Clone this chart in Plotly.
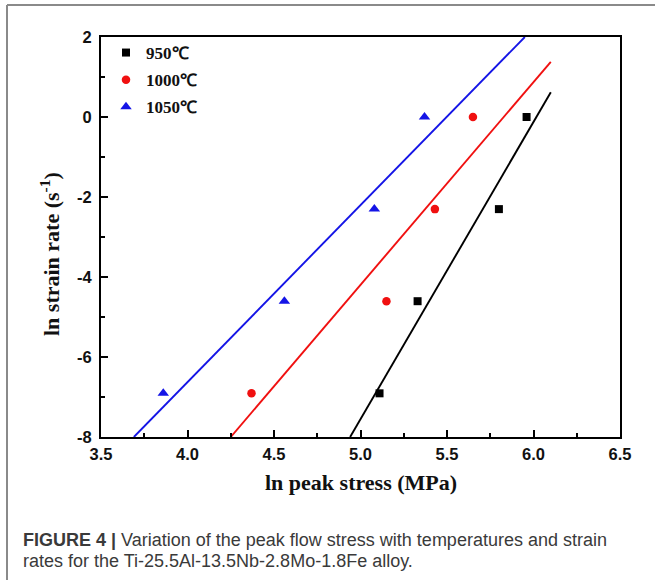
import plotly.graph_objects as go

# ---------------- data ----------------
ln_strain_rate = [-6.908, -4.605, -2.303, 0.0]
ln_stress_950 = [5.11, 5.33, 5.80, 5.96]
ln_stress_1000 = [4.37, 5.15, 5.43, 5.65]
ln_stress_1050 = [3.86, 4.56, 5.08, 5.37]

fit950_x = [4.94, 6.10]
fit950_y = [-8.0, 0.62]
fit1000_x = [4.25, 6.10]
fit1000_y = [-8.0, 1.38]
fit1050_x = [3.69, 5.95]
fit1050_y = [-8.0, 2.0]

series_names = ["950℃", "1000℃", "1050℃"]
x_ticks = [3.5, 4.0, 4.5, 5.0, 5.5, 6.0, 6.5]
x_tick_labels = ["3.5", "4.0", "4.5", "5.0", "5.5", "6.0", "6.5"]
y_ticks = [-8, -6, -4, -2, 0, 2]
y_tick_labels = ["-8", "-6", "-4", "-2", "0", "2"]

# ---------------- layout geometry ----------------
W, H = 655, 587
L, R, T, B = 101, 620, 37, 437


def px(xp):
    return (xp - L) / (R - L)


def py(yp):
    return (B - yp) / (B - T)


BLACK = "#000000"
RED = "#f01010"
BLUE = "#1414e6"

fig = go.Figure()

series = [
    (ln_stress_950, series_names[0], BLACK, "square", 8, fit950_x, fit950_y),
    (ln_stress_1000, series_names[1], RED, "circle", 8.5, fit1000_x, fit1000_y),
    (ln_stress_1050, series_names[2], BLUE, "triangle-up", 10, fit1050_x, fit1050_y),
]

for i, (xs, name, col, sym, sz, fx, fy) in enumerate(series):
    fig.add_trace(go.Scatter(
        x=fx, y=fy, mode="lines", line=dict(color=col, width=1.9),
        showlegend=False, hoverinfo="skip"))

for i, (xs, name, col, sym, sz, fx, fy) in enumerate(series):
    fig.add_trace(go.Scatter(
        x=xs, y=ln_strain_rate, mode="markers", name=f"<b>{name}</b>",
        legendgroup=f"g{i}",
        marker=dict(symbol=sym, size=sz, color=col, line=dict(width=0))))

axis_common = dict(
    showline=True, linecolor="#000000", linewidth=2, mirror=True,
    ticks="inside", ticklen=7, tickwidth=1.5, tickcolor="#000000",
    showgrid=False, zeroline=False,
    tickfont=dict(family="Liberation Sans, Arial, sans-serif", size=16.5, color="#111111"),
)

fig.update_xaxes(
    range=[3.5, 6.5], tickvals=x_ticks, ticktext=[f"<b>{t}</b>" for t in x_tick_labels],
    minor=dict(ticks="inside", ticklen=4, tickwidth=1.5, tickcolor="#000000", dtick=0.25, tick0=3.5),
    ticklabelstandoff=1,
    **axis_common)
fig.update_yaxes(
    range=[-8, 2], tickvals=y_ticks, ticktext=[f"<b>{t}</b>" for t in y_tick_labels],
    minor=dict(ticks="inside", ticklen=4, tickwidth=1.5, tickcolor="#000000", dtick=1, tick0=-8),
    ticklabelstandoff=4,
    **axis_common)

annotations = [
    dict(text="<b>ln peak stress (MPa)</b>", xref="paper", yref="paper",
         x=px(361), y=py(482), xanchor="center", yanchor="middle", showarrow=False,
         font=dict(family="Liberation Serif, Times New Roman, serif", size=22, color="#111111")),
    dict(text="<b>ln strain rate (s<sup>-1</sup>)</b>", xref="paper", yref="paper",
         x=px(50), y=py(254), xanchor="center", yanchor="middle", showarrow=False, textangle=-90,
         font=dict(family="Liberation Serif, Times New Roman, serif", size=22, color="#111111")),
    dict(text="<b>FIGURE 4 |</b> Variation of the peak flow stress with temperatures and strain",
         xref="paper", yref="paper", x=px(21), y=py(540), xanchor="left", yanchor="middle",
         showarrow=False,
         font=dict(family="Liberation Sans, Arial, sans-serif", size=18, color="#3a3a3a")),
    dict(text="rates for the Ti-25.5Al-13.5Nb-2.8Mo-1.8Fe alloy.",
         xref="paper", yref="paper", x=px(21), y=py(561), xanchor="left", yanchor="middle",
         showarrow=False,
         font=dict(family="Liberation Sans, Arial, sans-serif", size=18, color="#3a3a3a")),
]

shapes = [
    dict(type="line", xref="paper", yref="paper", x0=px(7), x1=px(655), y0=py(5), y1=py(5),
         line=dict(color="#8a8a8a", width=2)),
    dict(type="line", xref="paper", yref="paper", x0=px(7), x1=px(7), y0=py(5), y1=py(580),
         line=dict(color="#8a8a8a", width=2)),
]

fig.update_layout(
    width=W, height=H,
    margin=dict(l=L, r=W - R, t=T, b=H - B, pad=0),
    paper_bgcolor="#ffffff", plot_bgcolor="#ffffff",
    showlegend=True,
    legend=dict(x=px(106), y=py(35), xanchor="left", yanchor="top",
                bgcolor="rgba(0,0,0,0)", borderwidth=0, tracegroupgap=2,
                itemsizing="trace",
                font=dict(family="Liberation Serif, Times New Roman, serif", size=17, color="#111111")),
    annotations=annotations,
    shapes=shapes,
)

fig.write_html("out.html", config={"displayModeBar": False},
               post_script="document.body.style.margin='0px';")
